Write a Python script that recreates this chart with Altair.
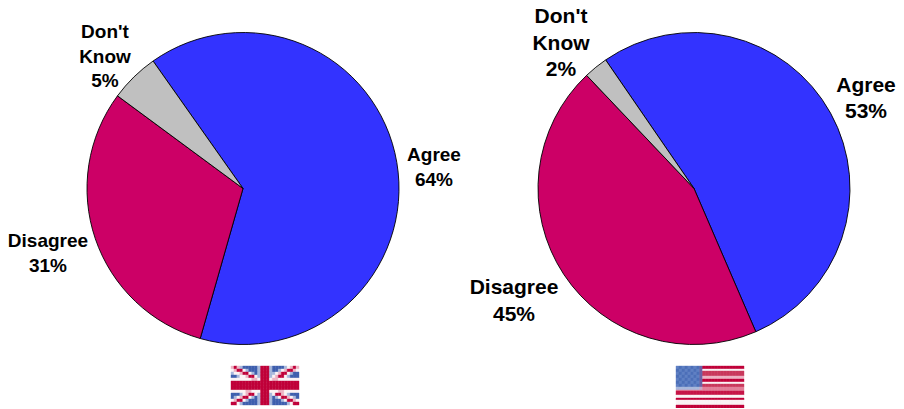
import math
import altair as alt
import pandas as pd

categories = ["Agree", "Disagree", "Don't\nKnow"]
colors = ["#3333FF", "#CC0066", "#C0C0C0"]
uk_values = [64.2, 30.7, 5.1]
us_values = [53.1, 44.4, 2.5]

uk_flag = [
    "PRPLBBBBBLRRRLBBBBLWPRP",
    "WPRRWLBBBLRRRLBBLWPRRPW",
    "LWWPRRWLBLRRRLLWPRRWLBB",
    "BBLWWPRRWLRRRLWPRRWLBBB",
    "WWWWWWWPPWRRRWPPWWWWWWW",
    "RRRRRRRRRRRRRRRRRRRRRRR",
    "RRRRRRRRRRRRRRRRRRRRRRR",
    "RRRRRRRRRRRRRRRRRRRRRRR",
    "WWWWWPPWWWRRRWWWPPWWWWW",
    "BBBLWPRRWLRRRLWRRPWLBBB",
    "BLWPRRWLBLRRRLBLWRRPWLB",
    "WPRRWLBBBLRRRLBBBLWRRPW",
    "RRWLBBBBBLRRRLBBBBBLWRR",
]
us_canton = [
    "DEDEDEDEV",
    "EDEDEDEDV",
    "DEDEDEDEV",
    "EDEDEDEDV",
    "DEDEDEDEV",
    "EDEDEDEDV",
    "DEDEDEDEV",
    "LLLLLLLLG",
]
us_stripes = "RRRWWMMMMMPPPRRRWWMMMQQQQCCCCWWWRRWWWWWRRR"[:42]
flag_palette = {
    "R": "#C0003A", "W": "#FBF3F5", "P": "#EDB4C4", "B": "#3F5FAE", "L": "#A9B8DC",
    "D": "#5F80C4", "E": "#4C6FB8", "V": "#6A62A6", "M": "#C93A5E", "Q": "#E27F9A",
    "G": "#C8A8C8", "C": "#C8174A",
}
us_flag = [
    (us_canton[i // 3] if i // 3 < len(us_canton) else s * 9) + s * 14
    for i, s in enumerate(us_stripes)
]
label_pct_uk = ["64%", "31%", "5%"]
label_pct_us = ["53%", "45%", "2%"]

FONT = "Liberation Sans"


def pie(values, cx, cy, r, start_deg):
    df = pd.DataFrame({"cat": categories, "v": values, "c": colors, "o": [0, 1, 2]})
    a = math.radians(start_deg)
    return alt.Chart(df).mark_arc(outerRadius=r, stroke="black", strokeWidth=0.9).encode(
        theta=alt.Theta("v:Q", stack=True, scale=alt.Scale(domain=[0, 100], range=[a, a + 2 * math.pi])),
        color=alt.Color("c:N", scale=None),
        order=alt.Order("o:Q"),
        x=alt.value(cx),
        y=alt.value(cy),
    )


def flag(rows, x0, x1, y0, y1):
    recs = [
        {"col": j, "row": i, "c": flag_palette[ch]}
        for i, s in enumerate(rows)
        for j, ch in enumerate(s)
    ]
    return alt.Chart(pd.DataFrame(recs)).mark_rect(strokeWidth=0.4).encode(
        x=alt.X("col:O", axis=None, scale=alt.Scale(range=[x0, x1], paddingInner=0, paddingOuter=0)),
        y=alt.Y("row:O", axis=None, scale=alt.Scale(range=[y0, y1], paddingInner=0, paddingOuter=0)),
        color=alt.Color("c:N", scale=None),
        stroke=alt.Stroke("c:N", scale=None),
    )


def label(text, x, y, lh, size):
    df = pd.DataFrame({"t": [text]})
    return alt.Chart(df).mark_text(
        font=FONT, fontSize=size, fontWeight="bold", color="black", align="center",
        baseline="top", lineBreak="\n", lineHeight=lh,
    ).encode(text="t:N", x=alt.value(x), y=alt.value(y))


layers = [
    pie(uk_values, 235, 180.5, 156, -35.2),
    pie(us_values, 686, 180.5, 156, -34.5),
    flag(uk_flag, 223, 291, 358, 397),
    flag(us_flag, 668, 736, 358, 400),
    label(f"{categories[0]}\n{label_pct_uk[0]}", 426, 138, 25, 19),
    label(f"{categories[1]}\n{label_pct_uk[1]}", 40, 224, 25, 19),
    label(f"{categories[2]}\n{label_pct_uk[2]}", 97, 15, 24.5, 19),
    label(f"{categories[0]}\n{label_pct_us[0]}", 858, 67, 26, 21),
    label(f"{categories[1]}\n{label_pct_us[1]}", 506, 269, 27, 21),
    label(f"{categories[2]}\n{label_pct_us[2]}", 553, -2, 26.5, 21),
]

chart = (
    alt.layer(*layers)
    .resolve_scale(x="independent", y="independent", theta="independent", color="independent", stroke="independent")
    .properties(width=888, height=400, padding=0, autosize=alt.AutoSizeParams(type="none"))
    .configure_view(stroke=None)
)
chart.save("out.html", embed_options={"renderer": "svg", "actions": False})
